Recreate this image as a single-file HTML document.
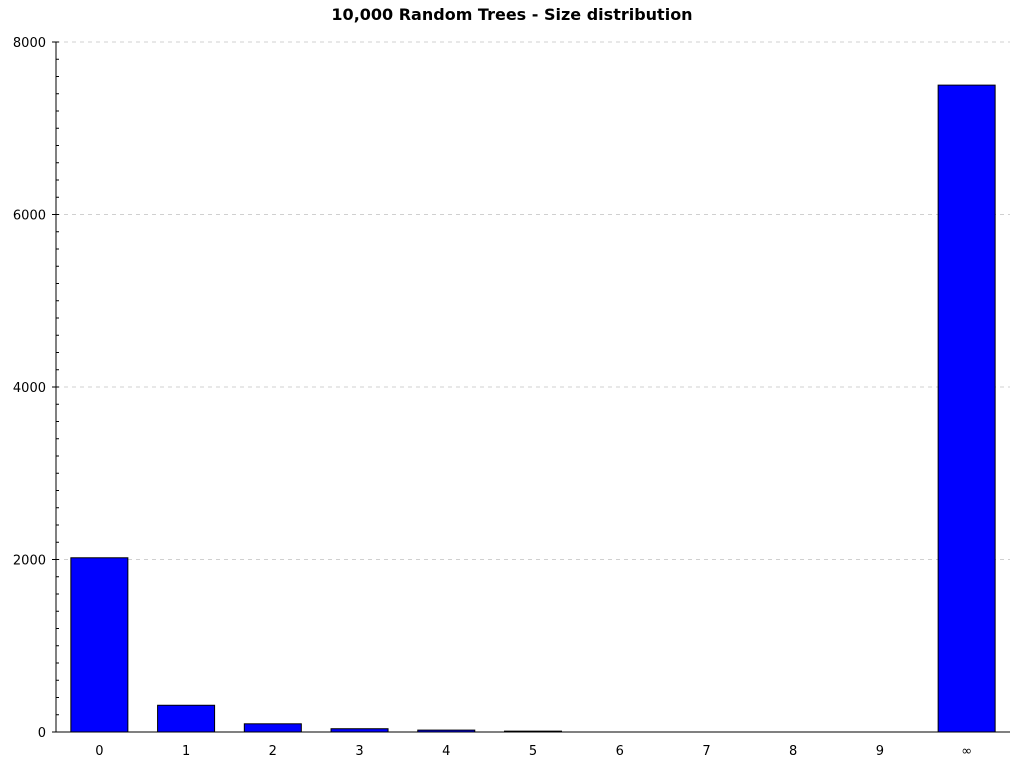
<!DOCTYPE html>
<html><head><meta charset="utf-8"><style>
body{margin:0;background:#fff;width:1024px;height:768px;overflow:hidden;font-family:"Liberation Sans","DejaVu Sans",sans-serif}
</style></head><body>
<svg id="chart" width="1024" height="768" xmlns="http://www.w3.org/2000/svg">
<text x="512" y="20" text-anchor="middle" font-family="DejaVu Sans, Liberation Sans, sans-serif" font-weight="bold" font-size="16">10,000 Random Trees - Size distribution</text>
<g id="grid"></g><g id="bars"></g><g id="axes"></g>
</svg>
<script>
const categories = ['0','1','2','3','4','5','6','7','8','9','∞'];
const counts = [2020, 310, 95, 38, 22, 10, 0, 0, 0, 0, 7500];
const yTicks = [0, 2000, 4000, 6000, 8000];
const X0 = 56, X1 = 1010, Y0 = 732, Y1 = 42, YMAX = 8000;
const ns = 'http://www.w3.org/2000/svg';
const step = (X1 - X0) / categories.length;
function xc(i){ return X0 + step * (i + 0.5); }
function y(v){ return Y0 - (v / YMAX) * (Y0 - Y1); }
function mk(tag, attrs, parent){ const e = document.createElementNS(ns, tag); for (const k in attrs) e.setAttribute(k, attrs[k]); document.getElementById(parent).appendChild(e); return e; }
yTicks.forEach(v => {
  if (v > 0) {
    const g = mk('line', {x1:X0, x2:X1, y1:y(v), y2:y(v), stroke:'#d0d0d0', 'stroke-dasharray':'4,4'}, 'grid');
    
    
  }
  const t = mk('text', {x:X0 - 10, y:y(v) + 5, 'text-anchor':'end', 'font-size':'13', 'font-family':'DejaVu Sans, Liberation Sans, sans-serif'}, 'axes');
  t.textContent = v;
  
  
  mk('line', {x1:X0 - 4, x2:X0 + 3, y1:y(v), y2:y(v), stroke:'#000'}, 'axes');
});
for (let v = 0; v <= YMAX; v += 200) mk('line', {x1:X0, x2:X0 + 3, y1:y(v), y2:y(v), stroke:'#000'}, 'axes');
counts.forEach((c, i) => {
  const w = 57, top = y(c);
  if (c > 0) {
    const r = mk('rect', {x:xc(i) - w/2, y:top, width:w, height:Y0 - top, fill:'#0000ff', stroke:'#000', 'stroke-width':1}, 'bars');
    
    
  }
  const t = mk('text', {x:xc(i), y:755, 'text-anchor':'middle', 'font-size':'13', 'font-family':'DejaVu Sans, Liberation Sans, sans-serif'}, 'axes');
  t.textContent = categories[i];
  
  
});
const ya = mk('line', {x1:X0, x2:X0, y1:Y1, y2:Y0, stroke:'#000'}, 'axes');


const xa = mk('line', {x1:X0, x2:X1, y1:Y0, y2:Y0, stroke:'#000'}, 'axes');


</script>
</body></html>
